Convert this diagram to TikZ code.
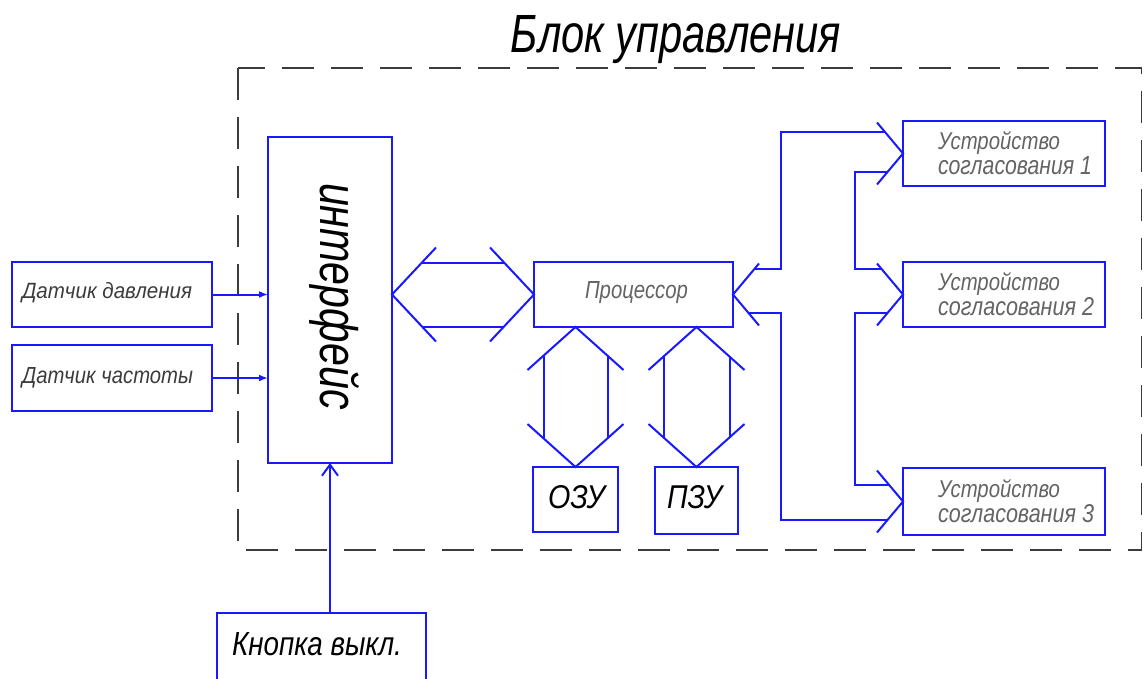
\documentclass[tikz,border=0pt]{standalone}
\usepackage{fontspec}
\setmainfont{Liberation Sans}
\usepackage{graphicx}
\usetikzlibrary{calc,arrows.meta}
\definecolor{cadblue}{RGB}{25,25,255}
\definecolor{framegray}{RGB}{60,60,60}
\definecolor{lblgray}{RGB}{100,100,100}
\definecolor{sengray}{RGB}{60,60,60}
\newcommand{\fitt}[3]{\resizebox{#1pt}{#2pt}{\itshape #3}}
\begin{document}
\begin{tikzpicture}[x=1pt,y=-1pt,
  box/.style={draw=cadblue,line width=2.3pt,inner sep=0pt,outer sep=0pt},
  wire/.style={draw=cadblue,line width=2pt},
  txt/.style={inner sep=0pt,outer sep=0pt,anchor=base west},
  devtxt/.style={inner sep=0pt,outer sep=0pt,anchor=west,align=left,text=lblgray,font=\fontsize{10pt}{25pt}\selectfont},
  frame/.style={draw=framegray,line width=1.4pt,dash pattern=on 32pt off 17pt}]
\useasboundingbox (0,0) rectangle (1144,678);
\fill[white] (0,0) rectangle (1144,678);
\clip (0,0) rectangle (1144,678);

% dashed frame and title
\draw[frame] (238,68) rectangle (1141.5,550);
\node[txt,anchor=base] (title) at (676,52) {\fitt{330}{37}{Блок управления}};

% boxes
\node[box,minimum width=200pt,minimum height=65pt] (sen1) at (112,294.5) {};
\node[box,minimum width=200pt,minimum height=66pt] (sen2) at (112,378) {};
\node[box,minimum width=124pt,minimum height=326pt] (intf) at (330,300) {};
\node[box,minimum width=199pt,minimum height=65pt] (proc) at (633.5,294.5) {};
\node[box,minimum width=85pt,minimum height=65pt] (ozu) at (575.5,499.5) {};
\node[box,minimum width=83pt,minimum height=67pt] (pzu) at (696.5,500.5) {};
\node[box,minimum width=202pt,minimum height=65pt] (dev1) at (1004,153.5) {};
\node[box,minimum width=202pt,minimum height=65pt] (dev2) at (1004,294.5) {};
\node[box,minimum width=202pt,minimum height=67pt] (dev3) at (1004,501.5) {};
\node[box,minimum width=209pt,minimum height=100pt] (btn) at (321.5,663) {};

% texts
\node[txt,text=sengray] (t1) at (22,298) {\fitt{170}{16}{Датчик давления}};
\node[txt,text=sengray] (t2) at (22,383) {\fitt{171}{16}{Датчик частоты}};
\node[txt,text=lblgray] (tp) at (585,298) {\fitt{103}{17}{Процессор}};
\node[txt] (tozu) at (548,508) {\fitt{57}{23}{ОЗУ}};
\node[txt] (tpzu) at (667,508) {\fitt{55}{23}{ПЗУ}};
\node[txt] (tbtn) at (232,655) {\fitt{170}{23}{Кнопка выкл.}};
\node[txt,rotate=-90] (tint) at (320,183) {\fitt{227}{39}{интерфейс}};
\node[devtxt] (td1) at (938,153.5) {\fitt{122}{18}{Устройство}\\\fitt{154}{18}{согласования 1}};
\node[devtxt] (td2) at (938,294.5) {\fitt{122}{18}{Устройство}\\\fitt{156}{18}{согласования 2}};
\node[devtxt] (td3) at (938,501.5) {\fitt{122}{18}{Устройство}\\\fitt{156}{18}{согласования 3}};

% sensor and button arrows
\draw[wire,-{Latex[length=9pt,width=7pt]}] (sen1.east) -- (sen1.east -| intf.west);
\draw[wire,-{Latex[length=9pt,width=7pt]}] (sen2.east) -- (sen2.east -| intf.west);
\draw[wire,-{Straight Barb[length=11pt,width=16pt,line width=2pt]}] (intf.south |- btn.north) -- (intf.south);

% bus interface <-> processor
\coordinate (b1l) at (intf.east |- proc.west);
\coordinate (b1r) at (proc.west);
\draw[wire] ($(b1l)+(44,-47)$) -- (b1l) -- ($(b1l)+(44,47)$);
\draw[wire] ($(b1r)+(-44,-47)$) -- (b1r) -- ($(b1r)+(-44,47)$);
\draw[wire] ($(b1l)+(30,-32)$) -- ($(b1r)+(-30,-32)$);
\draw[wire] ($(b1l)+(30,32)$) -- ($(b1r)+(-30,32)$);

% bus processor <-> OZU
\coordinate (b2t) at (ozu.north |- proc.south);
\coordinate (b2b) at (ozu.north);
\draw[wire] ($(b2t)+(-48,43)$) -- (b2t) -- ($(b2t)+(48,43)$);
\draw[wire] ($(b2b)+(-48,-43)$) -- (b2b) -- ($(b2b)+(48,-43)$);
\draw[wire] ($(b2t)+(-32,29)$) -- ($(b2b)+(-32,-29)$);
\draw[wire] ($(b2t)+(32,29)$) -- ($(b2b)+(32,-29)$);

% bus processor <-> PZU
\coordinate (b3t) at (pzu.north |- proc.south);
\coordinate (b3b) at (pzu.north);
\draw[wire] ($(b3t)+(-48,43)$) -- (b3t) -- ($(b3t)+(48,43)$);
\draw[wire] ($(b3b)+(-48,-43)$) -- (b3b) -- ($(b3b)+(48,-43)$);
\draw[wire] ($(b3t)+(-33,29)$) -- ($(b3b)+(-33,-29)$);
\draw[wire] ($(b3t)+(33,29)$) -- ($(b3b)+(33,-29)$);

% right-hand bus
\coordinate (pa) at (proc.east);
\coordinate (pu) at ($(pa)+(26,-31)$);
\coordinate (pl) at ($(pa)+(26,31)$);
\coordinate (d1a) at (dev1.west);
\coordinate (d1u) at ($(d1a)+(-26,-31)$);
\coordinate (d1l) at ($(d1a)+(-26,31)$);
\coordinate (d2a) at (dev2.west);
\coordinate (d2u) at ($(d2a)+(-26,-31)$);
\coordinate (d2l) at ($(d2a)+(-26,31)$);
\coordinate (d3a) at (dev3.west);
\coordinate (d3u) at ($(d3a)+(-26,-31)$);
\coordinate (d3l) at ($(d3a)+(-26,31)$);
\draw[wire] (pu) -- (pa) -- (pl);
\draw[wire] (d1u) -- (d1a) -- (d1l);
\draw[wire] (d2u) -- (d2a) -- (d2l);
\draw[wire] (d3u) -- (d3a) -- (d3l);
\coordinate (puv) at ($(pa)!0.823!(pu)$);
\coordinate (plv) at ($(pa)!0.597!(pl)$);
\coordinate (d1uv) at ($(d1a)!0.694!(d1u)$);
\coordinate (d1lv) at ($(d1a)!0.597!(d1l)$);
\coordinate (d2uv) at ($(d2a)!0.823!(d2u)$);
\coordinate (d2lv) at ($(d2a)!0.597!(d2l)$);
\coordinate (d3uv) at ($(d3a)!0.532!(d3u)$);
\coordinate (d3lv) at ($(d3a)!0.597!(d3l)$);
\coordinate (xo) at (781,0);
\coordinate (xi) at (855,0);
\draw[wire] (d1uv) -- (xo |- d1uv) -- (xo |- puv) -- (puv);
\draw[wire] (plv) -- (xo |- plv) -- (xo |- d3lv) -- (d3lv);
\draw[wire] (d1lv) -- (xi |- d1lv) -- (xi |- d2uv) -- (d2uv);
\draw[wire] (d2lv) -- (xi |- d2lv) -- (xi |- d3uv) -- (d3uv);
\end{tikzpicture}
\end{document}
